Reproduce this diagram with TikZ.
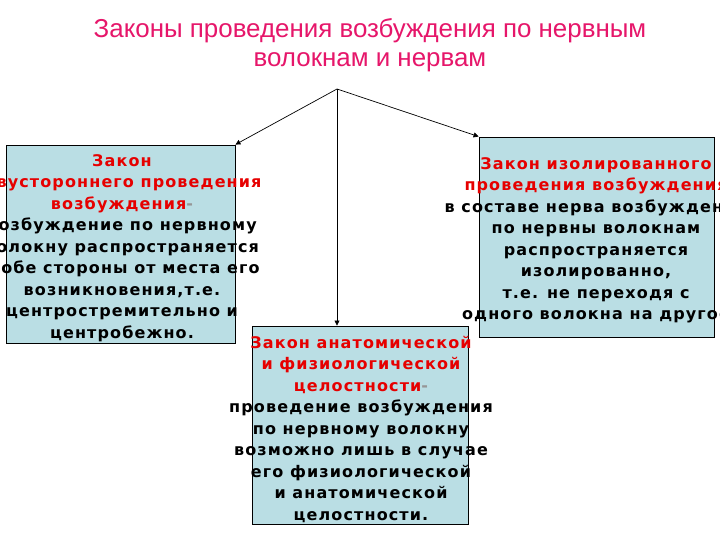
\documentclass[tikz,border=0pt]{standalone}
\usepackage{fontspec}
\setmainfont{DejaVu Sans}[LetterSpace=7]
\newfontfamily\titlefont{Liberation Sans}
\usetikzlibrary{arrows.meta,calc}
\definecolor{boxfill}{RGB}{186,222,228}
\definecolor{titlecol}{RGB}{230,22,106}
\definecolor{lawred}{RGB}{230,0,0}
\definecolor{dashgray}{RGB}{150,150,150}
\tikzset{
  lawbox/.style={draw=black,line width=0.9pt,fill=boxfill,rectangle,inner sep=0pt},
  lawtext/.style={anchor=base,align=center,inner sep=0pt,font=\fontsize{16}{21.5}\selectfont\bfseries},
  link/.style={draw=black,line width=0.7pt,-{Triangle[length=5pt,width=5pt]}},
  titletext/.style={anchor=base,align=center,inner sep=0pt,text=titlecol,font=\titlefont\fontsize{25.9}{28.7}\selectfont}
}
\begin{document}
\begin{tikzpicture}[x=1pt,y=-1pt]
\useasboundingbox (0,0) rectangle (720,540);
\clip (0,0) rectangle (720,540);
\fill[white] (0,0) rectangle (720,540);
\node[titletext] (title) at (370,66.5) {Законы проведения возбуждения по нервным\\волокнам и нервам};
\coordinate (apex) at (337,89);
\node[lawbox,minimum width=229pt,minimum height=198pt] (L) at (120.5,244) {};
\node[lawbox,minimum width=235pt,minimum height=200pt] (R) at (596.5,237) {};
\node[lawbox,minimum width=216pt,minimum height=198pt] (M) at (360,425) {};
\node[lawtext] (Lt) at (122,338) {\textcolor{lawred}{Закон}\\\textcolor{lawred}{двустороннего проведения}\\\textcolor{lawred}{возбуждения}\textcolor{dashgray}{-}\\возбуждение по нервному\\волокну распространяется\\в обе стороны от места его\\возникновения,т.е.\\центростремительно и\\центробежно.};
\node[lawtext] (Rt) at (596,319.5) {\textcolor{lawred}{Закон изолированного}\\\textcolor{lawred}{проведения возбуждения}\\в составе нерва возбуждение\\по нервны волокнам\\распространяется\\изолированно,\\т.е. не переходя с\\одного волокна на другое};
\node[lawtext] (Mt) at (361,520) {\textcolor{lawred}{Закон анатомической}\\\textcolor{lawred}{и физиологической}\\\textcolor{lawred}{целостности}\textcolor{dashgray}{-}\\проведение возбуждения\\по нервному волокну\\возможно лишь в случае\\его физиологической\\и анатомической\\целостности.};
\draw[link] (apex) -- (L.north east);
\draw[link] (apex) -- (R.north west);
\draw[link] (apex) -- (apex |- M.north);
\end{tikzpicture}
\end{document}
